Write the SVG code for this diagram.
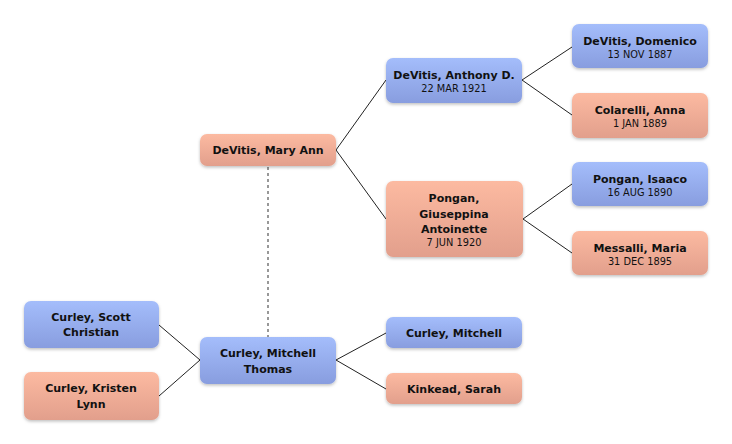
<svg xmlns="http://www.w3.org/2000/svg" width="732" height="444" viewBox="0 0 732 444">
<defs>
<linearGradient id="gb" x1="0" y1="0" x2="0" y2="1"><stop offset="0" stop-color="#a4bdfb"/><stop offset="1" stop-color="#889ddf"/></linearGradient>
<linearGradient id="gp" x1="0" y1="0" x2="0" y2="1"><stop offset="0" stop-color="#fcbaa1"/><stop offset="1" stop-color="#e29f8c"/></linearGradient>
<filter id="sh" x="-10%" y="-20%" width="120%" height="150%"><feDropShadow dx="0" dy="1.5" stdDeviation="1.5" flood-color="#000" flood-opacity="0.25"/></filter>
</defs>
<style>
.b{fill:url(#gb);filter:url(#sh)}
.p{fill:url(#gp);filter:url(#sh)}
.n{font-family:"DejaVu Sans",sans-serif;font-size:11px;font-weight:bold;fill:#111;text-anchor:middle}
.d{font-family:"DejaVu Sans",sans-serif;font-size:9.8px;fill:#111;text-anchor:middle}
.c{stroke:#222;stroke-width:1;fill:none}
.dot{stroke:#777;stroke-width:1.5;stroke-dasharray:3,3;fill:none}
</style>
<rect width="732" height="444" fill="#fff"/>
<g id="connectors">
<line class="dot" x1="268" y1="167" x2="268" y2="337"/>
<polyline class="c" points="386,80 336,150 386,219"/>
<polyline class="c" points="572,47 522,80 572,115"/>
<polyline class="c" points="572,184 523,219 572,253"/>
<polyline class="c" points="159,325 200,360 159,396"/>
<polyline class="c" points="386,333 336,360 386,389"/>
</g>
<g id="mary"><rect class="p" x="200" y="134" width="136" height="32" rx="7"/><text class="n" x="268" y="154">DeVitis, Mary Ann</text></g>
<g id="anthony"><rect class="b" x="386" y="58" width="136" height="45" rx="7"/><text class="n" x="454" y="79">DeVitis, Anthony D.</text><text class="d" x="454" y="92">22 MAR 1921</text></g>
<g id="giuseppina"><rect class="p" x="386" y="181" width="137" height="76" rx="7"/><text class="n" x="454" y="202">Pongan,</text><text class="n" x="454" y="218">Giuseppina</text><text class="n" x="454" y="233">Antoinette</text><text class="d" x="454" y="246">7 JUN 1920</text></g>
<g id="domenico"><rect class="b" x="572" y="24" width="136" height="44" rx="7"/><text class="n" x="640" y="45">DeVitis, Domenico</text><text class="d" x="640" y="58">13 NOV 1887</text></g>
<g id="anna"><rect class="p" x="572" y="93" width="136" height="45" rx="7"/><text class="n" x="640" y="114">Colarelli, Anna</text><text class="d" x="640" y="127">1 JAN 1889</text></g>
<g id="isaaco"><rect class="b" x="572" y="162" width="136" height="44" rx="7"/><text class="n" x="640" y="183">Pongan, Isaaco</text><text class="d" x="640" y="196">16 AUG 1890</text></g>
<g id="maria"><rect class="p" x="572" y="231" width="136" height="44" rx="7"/><text class="n" x="640" y="252">Messalli, Maria</text><text class="d" x="640" y="265">31 DEC 1895</text></g>
<g id="scott"><rect class="b" x="24" y="301" width="135" height="47" rx="7"/><text class="n" x="91" y="321">Curley, Scott</text><text class="n" x="91" y="336">Christian</text></g>
<g id="kristen"><rect class="p" x="24" y="372" width="135" height="48" rx="7"/><text class="n" x="91" y="392">Curley, Kristen</text><text class="n" x="91" y="408">Lynn</text></g>
<g id="mitchellthomas"><rect class="b" x="200" y="337" width="136" height="47" rx="7"/><text class="n" x="268" y="357">Curley, Mitchell</text><text class="n" x="268" y="373">Thomas</text></g>
<g id="mitchell"><rect class="b" x="386" y="317" width="136" height="31" rx="7"/><text class="n" x="454" y="337">Curley, Mitchell</text></g>
<g id="sarah"><rect class="p" x="386" y="373" width="136" height="31" rx="7"/><text class="n" x="454" y="393">Kinkead, Sarah</text></g>
</svg>
